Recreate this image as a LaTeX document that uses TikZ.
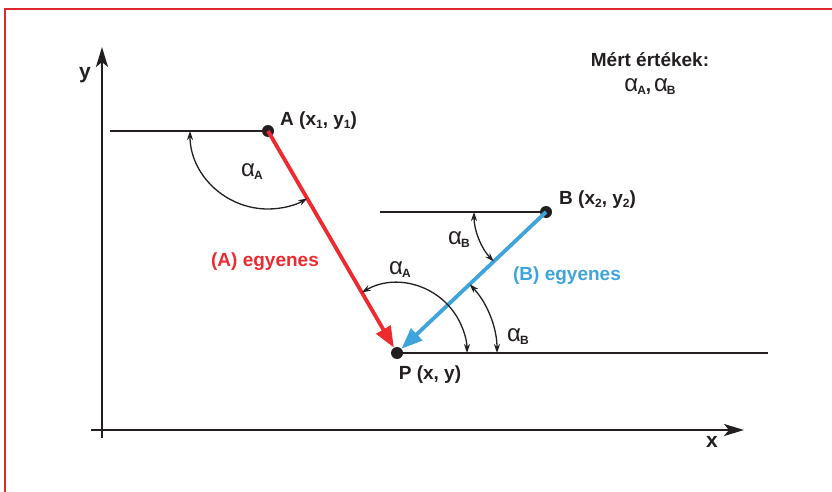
\documentclass[tikz,border=0pt]{standalone}
\usepackage{fontspec}
\setmainfont{Liberation Sans}
\usetikzlibrary{arrows.meta}
\definecolor{framered}{HTML}{E0262E}
\definecolor{linered}{HTML}{EE2A2F}
\definecolor{lineblue}{HTML}{3FA4DC}
\definecolor{ink}{HTML}{231F20}
\newcommand\angsym[1]{{\fontsize{24}{24}\selectfont\mdseries α}\kern-1pt\raisebox{-3pt}{\fontsize{12}{12}\selectfont\bfseries #1}}
\newcommand\subsc[1]{\raisebox{-3pt}{\fontsize{12}{12}\selectfont #1}}
\begin{document}
\begin{tikzpicture}[x=1pt,y=-1pt,
  lbl/.style={font=\bfseries\fontsize{19}{19}\selectfont, text=ink, inner sep=0pt},
  anglbl/.style={text=ink, inner sep=0pt},
  angarc/.style={line width=1.3pt, draw=ink, {Stealth[length=9pt,width=6pt]}-{Stealth[length=9pt,width=6pt]}},
  thinline/.style={line width=1.2pt, draw=ink},
  axisline/.style={line width=2.6pt, draw=ink, -{Stealth[length=20pt,width=12pt,inset=5pt]}},
  dot/.style={circle, fill=ink, minimum size=12pt, inner sep=0pt},
  vecline/.style={line width=3.8pt, -{Triangle[length=21pt,width=16pt]}}
]
\useasboundingbox (0,0) rectangle (832,492);
% frame
\draw[framered, line width=2.6pt] (5,495) -- (5,9) -- (835,9);

% axes
\coordinate (yb) at (102,438);
\coordinate (yt) at (102,47);
\coordinate (xl) at (91,430);
\coordinate (xr) at (744,430);
\draw[axisline] (yb) -- (yt);
\draw[axisline] (xl) -- (xr);
\node[lbl, font=\bfseries\fontsize{21}{21}\selectfont] (ylab) at (85,75) {y};
\node[lbl, font=\bfseries\fontsize{21}{21}\selectfont] (xlab) at (712,442) {x};

% points
\node[dot] (A) at (268,131) {};
\node[dot] (B) at (546,212) {};
\node[dot] (P) at (397,353) {};

% thin horizontal lines
\coordinate (a0) at (110,131);
\coordinate (b0) at (380,212);
\coordinate (p1) at (768,353);
\draw[thinline] (a0) -- (A.center);
\draw[thinline] (b0) -- (B.center);
\draw[thinline] (P.center) -- (p1);

% vectors
\draw[vecline, draw=linered, fill=linered] (A.center) -- (P);
\draw[vecline, draw=lineblue, fill=lineblue] (B.center) -- (P);

% angle arcs
\draw[angarc] ([shift={(180:78)}]A.center) arc[start angle=180, end angle=59.8, radius=78];
\draw[angarc] ([shift={(239.8:70)}]P.center) arc[start angle=239.8, end angle=360, radius=70];
\draw[angarc] ([shift={(180:72)}]B.center) arc[start angle=180, end angle=136.6, radius=72];
\draw[angarc] ([shift={(316.6:100)}]P.center) arc[start angle=316.6, end angle=360, radius=100];

% angle labels
\node[anglbl] (la1) at (252,172) {\angsym{A}};
\node[anglbl] (lb1) at (459,240) {\angsym{B}};
\node[anglbl] (la2) at (400,270) {\angsym{A}};
\node[anglbl] (lb2) at (518,337) {\angsym{B}};

% point labels
\node[lbl, anchor=west] (Alab) at (280,121) {A (x\subsc{1}, y\subsc{1})};
\node[lbl, anchor=west] (Blab) at (559,200) {B (x\subsc{2}, y\subsc{2})};
\node[lbl] (Plab) at (430,375) {P (x, y)};

% line labels
\node[lbl, text=linered] (Aeg) at (265,262) {(A) egyenes};
\node[lbl, text=lineblue] (Beg) at (567,276) {(B) egyenes};

% legend
\node[lbl] (mert) at (650,60) {Mért értékek:};
\node[anglbl] (mvals) at (650,87) {\angsym{A}{\fontsize{19}{19}\selectfont\bfseries ,} \angsym{B}};
\end{tikzpicture}
\end{document}
